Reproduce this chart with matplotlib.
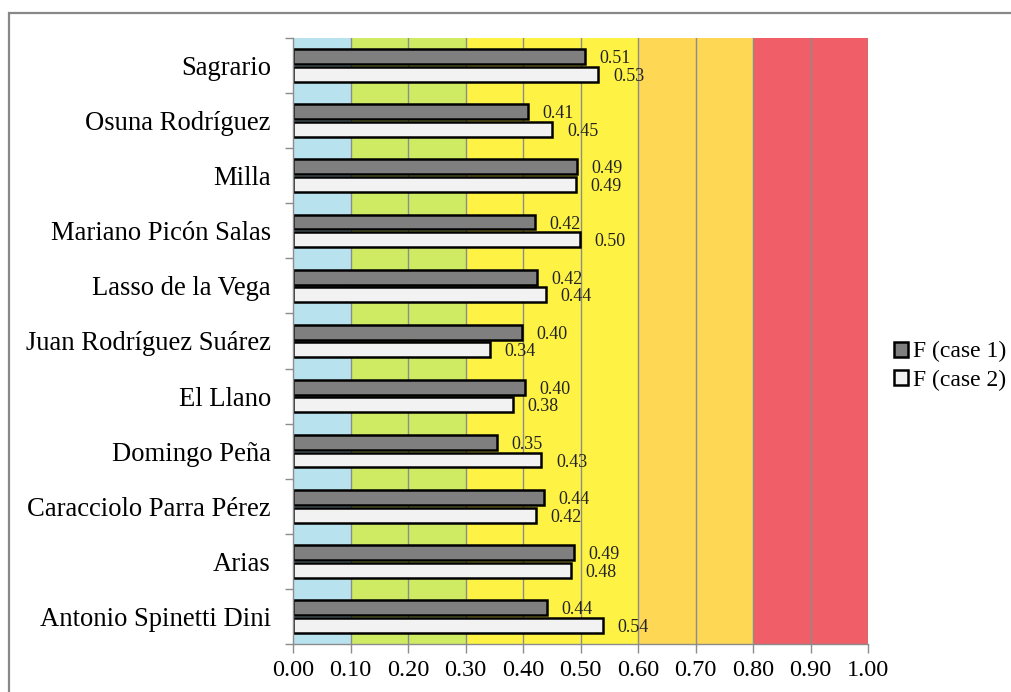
import numpy as np
import matplotlib
matplotlib.use("Agg")
import matplotlib.pyplot as plt
from matplotlib.patches import Rectangle

plt.rcParams['font.family'] = ['Liberation Serif', 'DejaVu Serif']

schools = ["Sagrario", "Osuna Rodríguez", "Milla", "Mariano Picón Salas",
           "Lasso de la Vega", "Juan Rodríguez Suárez", "El Llano",
           "Domingo Peña", "Caracciolo Parra Pérez", "Arias",
           "Antonio Spinetti Dini"]
f_case1 = [0.507, 0.408, 0.494, 0.421, 0.424, 0.398, 0.403, 0.354, 0.437, 0.488, 0.441]
f_case2 = [0.531, 0.451, 0.492, 0.499, 0.440, 0.343, 0.382, 0.432, 0.422, 0.483, 0.539]

# background ranges of F
band_edges = [0.0, 0.1, 0.3, 0.6, 0.8, 1.0]
band_colors = ["#b9e2ef", "#cfeb64", "#fef345", "#fed755", "#f05f67"]

xticks = np.arange(0, 1.01, 0.1)

fig = plt.figure(figsize=(10.11, 6.92), dpi=100)
ax = fig.add_axes([293/1011, 48/692, 575/1011, 606/692])

for lo, hi, c in zip(band_edges[:-1], band_edges[1:], band_colors):
    ax.axvspan(lo, hi, color=c, zorder=0.2, lw=0)

for x in xticks[1:]:
    ax.axvline(x, color="#8c8c8c", lw=1, zorder=0.6)

y = np.arange(len(schools))
h = 0.27
off = 0.16
b1 = ax.barh(y - off, f_case1, height=h, color="#7f7f7f", edgecolor="black",
             lw=1.8, label="F (case 1)", zorder=2)
b2 = ax.barh(y + off, f_case2, height=h, color="#f2f2f2", edgecolor="black",
             lw=1.8, label="F (case 2)", zorder=2)

for yy, v in zip(y - off, f_case1):
    ax.annotate(f"{v:.2f}", (v, yy), xytext=(10.5, -1.5), textcoords="offset points",
                ha="left", va="center", fontsize=13, color="#222222", zorder=3)
for yy, v in zip(y + off, f_case2):
    ax.annotate(f"{v:.2f}", (v, yy), xytext=(10.5, -1.5), textcoords="offset points",
                ha="left", va="center", fontsize=13, color="#222222", zorder=3)

ax.set_xlim(0, 1)
ax.set_ylim(len(schools) - 0.5, -0.5)
ax.set_xticks(xticks)
ax.set_xticklabels([f"{t:.2f}" for t in xticks], fontsize=17.5)
ax.set_yticks(y)
ax.set_yticklabels(schools, fontsize=19.2)
ax.set_yticks(np.arange(-0.5, len(schools)), minor=True)

ax.tick_params(axis="y", which="major", length=0, pad=16)
ax.tick_params(axis="y", which="minor", length=6, color="#8c8c8c", width=1)
ax.tick_params(axis="x", length=6.5, color="#8c8c8c", width=1, pad=5)

for s in ["top", "right"]:
    ax.spines[s].set_visible(False)
for s in ["left", "bottom"]:
    ax.spines[s].set_color("#8c8c8c")
    ax.spines[s].set_linewidth(1)

fig.legend(handles=[b1, b2], loc="center left",
           bbox_to_anchor=(894/1011, 1 - 366/692), frameon=False,
           fontsize=17, handlelength=0.6, handleheight=0.6,
           handletextpad=0.2, borderpad=0, borderaxespad=0, labelspacing=0.3)

# outer frame around the chart area
fig.patches.append(Rectangle((9/1011, -0.1), 1.2, 1.1 - 13/692, fill=False,
                             edgecolor="#888888", lw=1.6, transform=fig.transFigure))

fig.savefig("out.png", dpi=100)
